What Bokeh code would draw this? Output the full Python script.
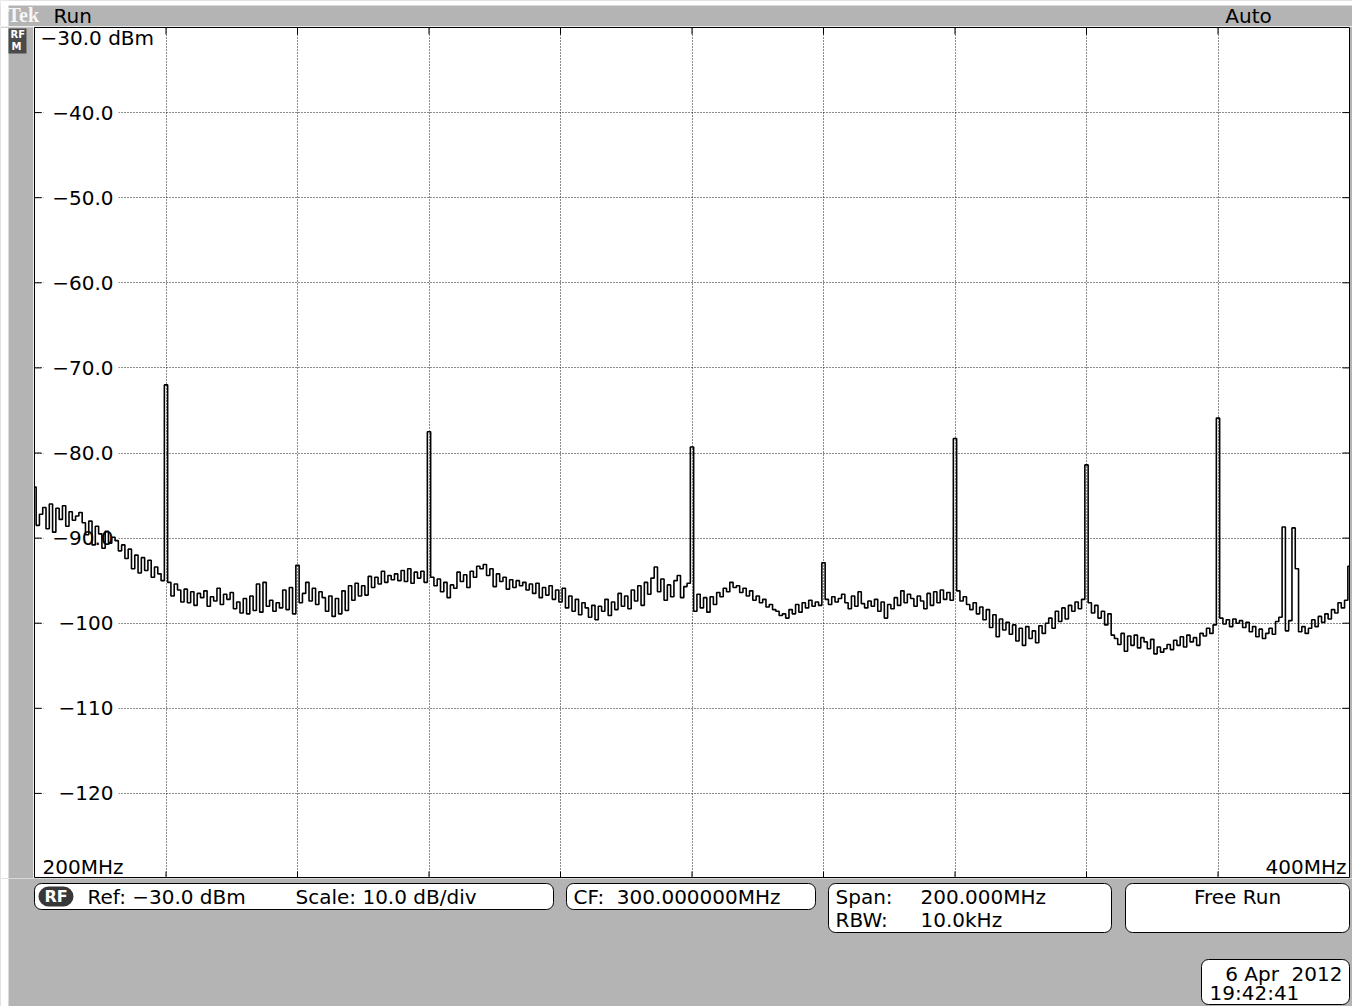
import numpy as np
from bokeh.plotting import figure
from bokeh.layouts import column, row
from bokeh.models import Label, BoxAnnotation, FixedTicker
from bokeh.core.properties import value
from bokeh.embed import file_html
from bokeh.resources import INLINE

# ---------------- data ----------------
freq_start_mhz = 200.0
freq_stop_mhz = 400.0
ref_level_dbm = -30.0
bottom_level_dbm = -130.0

x_grid_mhz = [220, 240, 260, 280, 300, 320, 340, 360, 380]
y_grid_dbm = [-40, -50, -60, -70, -80, -90, -100, -110, -120]
y_tick_labels = ["−40.0", "−50.0", "−60.0", "−70.0", "−80.0", "−90.0", "−100", "−110", "−120"]
top_label = "−30.0 dBm"
start_label = "200MHz"
stop_label = "400MHz"

# measured trace, one value every 0.5 MHz from 200 to 400 MHz (dBm)
trace_dbm = [
    -84.0, -88.5, -87.2, -86.4, -88.9, -86.0, -89.3, -86.5, -87.8, -86.2, -88.6, -86.9, -87.9, -87.4, -87.0, -88.2, -89.6, -88.0, -90.8, -88.6,
    -89.5, -91.2, -89.2, -90.6, -89.9, -90.3, -91.5, -90.8, -92.4, -91.3, -93.6, -92.0, -94.1, -92.3, -93.8, -92.6, -94.6, -93.4, -94.2, -95.0,
    -72.0, -95.2, -96.8, -95.4, -96.1, -97.5, -96.0, -97.6, -96.3, -97.9, -96.5, -97.0, -96.2, -98.0, -96.9, -97.4, -95.9, -97.8, -96.6, -97.2,
    -96.4, -98.3, -97.5, -98.8, -97.1, -98.9, -96.8, -98.5, -95.4, -98.7, -95.2, -98.0, -97.3, -98.6, -97.6, -98.2, -96.1, -98.4, -95.8, -98.9,
    -93.2, -97.6, -96.5, -95.2, -97.4, -95.9, -97.8, -96.3, -97.0, -98.6, -96.8, -99.2, -97.1, -98.9, -96.2, -98.5, -95.6, -97.3, -95.3, -96.8,
    -95.6, -96.7, -94.5, -95.8, -94.6, -95.4, -93.9, -95.2, -94.4, -94.9, -94.2, -95.0, -93.8, -95.1, -93.6, -95.3, -94.0, -94.7, -93.9, -95.2,
    -77.5, -94.6, -95.6, -94.8, -96.3, -95.2, -97.0, -95.5, -95.9, -94.0, -95.1, -94.3, -95.8, -93.9, -94.6, -93.3, -93.6, -93.1, -94.4, -93.6,
    -95.7, -94.2, -95.1, -94.6, -96.0, -94.9, -95.8, -95.0, -95.6, -95.2, -96.1, -95.4, -96.5, -95.3, -97.0, -95.8, -96.7, -95.6, -97.2, -96.1,
    -97.5, -95.9, -98.2, -96.8, -98.6, -97.2, -99.0, -97.6, -98.2, -99.3, -97.9, -99.6, -98.0, -98.6, -97.2, -99.1, -97.5, -98.4, -96.5, -98.0,
    -96.8, -98.3, -96.1, -97.4, -95.6, -97.9, -95.2, -96.6, -94.7, -93.4, -96.3, -94.8, -97.3, -95.5, -96.9, -95.0, -94.4, -97.0, -95.7, -95.3,
    -79.3, -98.6, -96.6, -98.2, -97.0, -98.7, -96.9, -97.8, -96.4, -96.9, -95.9, -96.3, -95.2, -95.8, -95.6, -96.4, -95.9, -96.8, -96.2, -97.3,
    -96.8, -97.6, -97.2, -98.1, -97.8, -98.4, -98.6, -99.1, -98.9, -99.4, -98.4, -98.9, -97.8, -98.7, -97.6, -98.2, -97.3, -98.0, -97.5, -97.9,
    -92.9, -97.2, -97.8, -96.9, -97.5, -97.1, -96.6, -97.6, -98.3, -96.8, -98.0, -96.3, -97.7, -98.2, -97.4, -98.0, -97.2, -98.6, -97.5, -99.4,
    -97.8, -98.3, -97.0, -97.9, -96.2, -97.6, -96.6, -97.1, -98.0, -96.8, -97.4, -98.3, -96.5, -97.9, -96.3, -97.6, -96.1, -97.2, -96.4, -97.3,
    -78.3, -96.2, -97.4, -96.9, -97.8, -98.4, -97.6, -98.9, -98.1, -99.6, -98.4, -100.5, -99.0, -101.6, -99.5, -100.8, -99.9, -101.3, -100.2, -102.1,
    -100.6, -102.6, -100.4, -101.8, -100.9, -102.3, -100.3, -101.2, -100.0, -99.4, -100.6, -98.6, -99.8, -98.2, -99.5, -97.9, -98.6, -97.5, -98.3, -97.2,
    -81.4, -97.6, -98.8, -97.9, -99.4, -98.6, -100.2, -98.9, -101.4, -101.8, -102.5, -101.2, -103.3, -101.5, -102.6, -101.4, -102.9, -101.7, -102.2, -103.0,
    -101.9, -103.6, -102.8, -103.4, -103.0, -102.5, -103.1, -102.0, -102.6, -101.6, -102.8, -101.4, -102.2, -101.7, -102.6, -101.2, -101.5, -100.6, -101.2, -100.2,
    -75.9, -99.4, -100.1, -99.6, -100.4, -99.5, -100.0, -99.7, -100.5, -99.9, -101.0, -100.4, -101.6, -100.7, -101.8, -101.2, -100.6, -101.3, -99.8, -99.3,
    -88.7, -100.9, -99.7, -88.8, -93.6, -101.0, -100.4, -101.2, -100.6, -99.6, -100.4, -99.2, -99.9, -98.9, -99.5, -98.4, -98.8, -97.6, -98.2, -97.3,
    -93.3,
]
trace_freq_mhz = np.linspace(freq_start_mhz, freq_stop_mhz, len(trace_dbm))

panel_ref = "Ref: −30.0 dBm"
panel_scale = "Scale: 10.0 dB/div"
panel_cf = "CF:\u00a0 300.000000MHz"
panel_span_key, panel_span_val = "Span:", "200.000MHz"
panel_rbw_key, panel_rbw_val = "RBW:", "10.0kHz"
panel_trigger = "Free Run"
status_run = "Run"
status_auto = "Auto"
date_text = "6 Apr\u00a0 2012"
time_text = "19:42:41"

# ---------------- layout (page pixel coordinates) ----------------
PW, PH = 1352, 1006
HEAD_H = 26
FRAME_L, FRAME_R, FRAME_T, FRAME_B = 34, 1349, 27, 878
LEFT_W = FRAME_L - 1
MID_H = FRAME_B - HEAD_H
BOT_H = PH - FRAME_B
GREY = "#b4b4b4"
FONT = "DejaVu Sans"
FS = "20px"


def blank(w, h, x0, x1, y0, y1, bg="white"):
    f = figure(width=w, height=h, x_range=(x0, x1), y_range=(y1, y0),
               output_backend="svg", toolbar_location=None, tools="", min_border=0)
    f.axis.visible = False
    f.grid.visible = False
    f.outline_line_color = None
    f.background_fill_color = bg
    f.border_fill_color = bg
    return f


def ftext(f, x, y, text, align="left", size=FS, color="black", font=FONT, style="normal"):
    f.text(x=[x], y=[y], text=[text], text_align=align, text_baseline="middle",
           text_font=value(font), text_font_size=size, text_color=color, text_font_style=style)


def fbox(f, l, t, r, b, fill="white", line="black", radius=7):
    f.add_layout(BoxAnnotation(left=l, right=r, top=t, bottom=b, fill_color=fill, fill_alpha=1.0,
                               line_color=line, line_alpha=1.0, line_width=1, level="underlay",
                               border_radius=radius, editable=False))


# header strip
head = blank(PW, HEAD_H, 0, PW, 0, HEAD_H, bg=GREY)
head.quad(left=0, right=8, top=0, bottom=HEAD_H, fill_color="white", line_color=None)
head.quad(left=0, right=PW, top=0, bottom=5, fill_color="white", line_color=None)
ftext(head, 7, 14, "Tek", size="20px", color="#f6f6f6", font="Liberation Serif", style="bold")
ftext(head, 53, 15, status_run)
ftext(head, 1248, 15, status_auto, align="center")

# left strip
left = blank(LEFT_W, MID_H, 0, LEFT_W, HEAD_H, FRAME_B, bg=GREY)
left.quad(left=0, right=8, top=HEAD_H, bottom=FRAME_B, fill_color="white", line_color=None)
left.quad(left=8, right=26, top=27, bottom=52, fill_color="#4a4a4a", line_color=None)
ftext(left, 10, 33, "RF", size="10px", color="white", style="bold")
ftext(left, 11, 45, "M", size="10px", color="white", style="bold")

# main graticule
p = figure(width=PW - LEFT_W, height=MID_H, x_range=(freq_start_mhz, freq_stop_mhz),
           y_range=(bottom_level_dbm, ref_level_dbm),
           output_backend="svg", toolbar_location=None, tools="")
p.min_border_left = FRAME_L - LEFT_W
p.min_border_right = PW - FRAME_R
p.min_border_top = FRAME_T - HEAD_H
p.min_border_bottom = 0
p.xaxis.visible = False
p.yaxis.visible = False
p.border_fill_color = GREY
p.background_fill_color = "white"
p.outline_line_color = "black"
p.outline_line_width = 1

FW = FRAME_R - FRAME_L
FH = FRAME_B - FRAME_T
MHZ_PER_PX = (freq_stop_mhz - freq_start_mhz) / FW
DB_PER_PX = (ref_level_dbm - bottom_level_dbm) / FH


def dx(px):
    return freq_start_mhz + (px - FRAME_L) * MHZ_PER_PX


def dy(py):
    return ref_level_dbm - (py - FRAME_T) * DB_PER_PX


for g, t in ((p.xgrid, x_grid_mhz), (p.ygrid, y_grid_dbm)):
    g.ticker = FixedTicker(ticks=t)
    g.grid_line_color = "black"
    g.grid_line_dash = "1 2"
    g.grid_line_alpha = 0.9
    g.grid_line_width = 1

tick = 7
ny, nx = len(y_grid_dbm), len(x_grid_mhz)
p.segment(x0=[freq_start_mhz] * ny, x1=[freq_start_mhz + tick * MHZ_PER_PX] * ny,
          y0=y_grid_dbm, y1=y_grid_dbm, line_color="black", line_width=1)
p.segment(x0=[freq_stop_mhz] * ny, x1=[freq_stop_mhz - tick * MHZ_PER_PX] * ny,
          y0=y_grid_dbm, y1=y_grid_dbm, line_color="black", line_width=1)
p.segment(x0=x_grid_mhz, x1=x_grid_mhz, y0=[ref_level_dbm] * nx,
          y1=[ref_level_dbm - tick * DB_PER_PX] * nx, line_color="black", line_width=1)
p.segment(x0=x_grid_mhz, x1=x_grid_mhz, y0=[bottom_level_dbm] * nx,
          y1=[bottom_level_dbm + tick * DB_PER_PX] * nx, line_color="black", line_width=1)

half = 9 * DB_PER_PX
p.quad(left=dx(43), right=dx(118), bottom=[v - half for v in y_grid_dbm],
       top=[v + half for v in y_grid_dbm], fill_color="white", line_color=None)
p.text(x=[dx(113)] * ny, y=y_grid_dbm, text=y_tick_labels,
       text_align="right", text_baseline="middle", text_font=value(FONT),
       text_font_size=FS, text_color="black")

p.step(x=trace_freq_mhz, y=trace_dbm, mode="center", line_color="black", line_width=1.6)


def lab(text, x, y, align="left"):
    p.add_layout(Label(x=dx(x), y=dy(y), text=text, text_align=align, text_baseline="middle",
                       text_font_size=FS, text_color="black", text_font=FONT))


lab(top_label, 40, 37)
lab(start_label, 42, 866)
lab(stop_label, 1346, 866, align="right")

# bottom strip
bot = blank(PW, BOT_H, 0, PW, FRAME_B, PH, bg=GREY)
bot.quad(left=0, right=8, top=FRAME_B, bottom=PH, fill_color="white", line_color=None)
fbox(bot, 34, 883, 553, 909)
fbox(bot, 566, 883, 815, 909)
fbox(bot, 828, 883, 1111, 932)
fbox(bot, 1125, 883, 1349, 932)
fbox(bot, 1201, 959, 1349, 1004)
bot.quad(left=38, right=73, top=886, bottom=906, fill_color="#383838", line_color=None,
         border_radius=10)
ftext(bot, 55.5, 896, "RF", align="center", size="16px", color="white", style="bold")
ftext(bot, 87, 896, panel_ref)
ftext(bot, 295, 896, panel_scale)
ftext(bot, 573, 896, panel_cf)
ftext(bot, 835, 896, panel_span_key)
ftext(bot, 920, 896, panel_span_val)
ftext(bot, 835, 919, panel_rbw_key)
ftext(bot, 920, 919, panel_rbw_val)
ftext(bot, 1237, 896, panel_trigger, align="center")
ftext(bot, 1342, 973, date_text, align="right")
ftext(bot, 1209, 992, time_text)

layout = column(head, row(left, p, spacing=0), bot, spacing=0)
open("out.html", "w").write(file_html(layout, INLINE))
